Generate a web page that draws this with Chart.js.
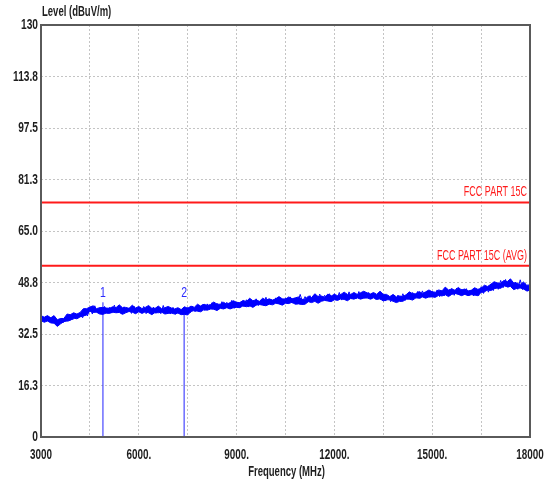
<!DOCTYPE html>
<html><head><meta charset="utf-8">
<script src="https://cdn.jsdelivr.net/npm/chart.js@4/dist/chart.umd.min.js"></script>
<style>html,body{margin:0;padding:0;background:#fff;}#wrap{width:555px;height:488px;position:relative;}</style>
</head><body><div id="wrap"><canvas id="c"></canvas></div>
<script>
// Core band of the level trace: one reading every coreStep MHz from freqStart
const freqStart = 3000;
const coreStep = 100;
const levelCoreUpper = [
 38.3,37.8,38.3,37.6,38.3,37.0,37.4,37.4,38.8,38.6,
 39.2,38.8,39.3,40.5,40.5,41.0,41.4,40.5,40.8,40.9,
 40.7,40.6,41.1,40.8,41.7,40.8,40.9,40.6,41.6,40.7,
 41.2,40.5,40.9,41.5,40.6,40.6,41.3,40.5,40.8,41.2,
 40.7,40.4,40.8,40.2,41.1,40.6,41.3,40.9,41.9,41.3,
 41.9,41.5,41.8,42.6,41.9,41.9,42.5,41.9,42.4,43.0,
 42.5,42.4,43.1,42.7,43.8,43.0,43.3,42.8,43.8,43.2,
 43.6,43.2,43.6,44.3,43.6,43.5,44.2,43.6,43.9,44.2,
 43.4,43.5,44.4,44.0,45.2,44.3,44.5,44.1,45.1,44.5,
 45.0,44.6,45.0,45.7,45.0,45.0,45.6,45.0,45.5,46.0,
 45.5,45.1,45.6,45.0,46.0,45.0,45.0,44.3,45.0,44.2,
 44.5,44.3,44.9,45.8,45.2,45.2,45.9,45.3,45.8,46.4,
 45.8,45.7,46.4,46.1,47.3,46.4,46.7,46.3,47.2,46.4,
 46.7,46.1,46.3,47.1,46.6,46.9,47.9,47.5,48.2,49.0,
 48.6,48.5,49.4,49.0,49.9,48.6,48.6,48.0,48.9,47.9,
 48.0
];
const levelCoreLower = [
 36.7,36.2,36.6,36.0,35.9,34.9,35.7,36.4,36.6,36.8,
 37.5,37.3,37.9,38.2,38.5,39.7,39.3,39.4,38.8,38.7,
 39.1,39.0,39.4,39.2,39.3,38.7,39.2,39.6,39.4,38.9,
 39.5,39.0,39.5,39.2,38.6,39.3,39.2,39.4,38.8,39.0,
 39.1,38.8,39.1,38.6,38.7,38.5,39.6,39.9,39.7,39.5,
 40.2,40.0,40.4,40.3,39.9,40.6,40.4,40.8,40.4,40.8,
 40.9,40.8,41.4,41.1,41.4,40.9,41.6,41.8,41.6,41.4,
 41.9,41.7,42.2,42.0,41.6,42.2,42.1,42.5,41.9,42.0,
 41.8,41.9,42.7,42.4,42.8,42.2,42.8,43.1,42.9,42.7,
 43.3,43.1,43.6,43.4,43.0,43.7,43.5,43.9,43.5,43.8,
 43.9,43.5,43.9,43.4,43.6,42.9,43.3,43.3,42.8,42.4,
 42.8,42.8,43.5,43.5,43.2,43.9,43.8,44.2,43.8,44.2,
 44.2,44.1,44.7,44.5,44.9,44.3,45.0,45.3,45.0,44.6,
 45.0,44.6,44.9,44.8,44.6,45.6,45.8,46.4,46.2,46.8,
 47.0,46.9,47.7,47.4,47.5,46.5,46.9,47.0,46.7,46.1,
 46.3
];
// Noisy sweep readings (spikes), one every traceStep MHz
const traceStep = 75;
const levelTrace = [
 38.0,36.6,38.1,36.4,37.7,36.0,37.4,35.8,37.3,36.0,37.6,36.5,38.6,37.0,39.1,37.4,39.0,37.6,39.6,38.2,
 40.9,38.8,41.4,39.2,40.8,38.7,41.2,39.0,40.9,39.1,41.6,39.2,40.7,38.9,41.1,39.3,40.6,39.0,41.3,39.2,
 40.9,39.1,41.2,38.9,40.7,39.1,41.0,39.0,40.8,38.9,41.5,39.0,40.6,38.8,40.9,38.7,40.4,38.8,40.5,38.6,
 40.9,39.2,41.3,39.5,41.6,39.8,41.8,39.9,42.0,40.2,42.4,40.1,42.2,40.5,42.7,40.4,42.5,40.7,43.1,40.6,
 42.6,40.8,42.9,41.1,43.3,41.0,42.8,41.4,43.6,41.5,43.2,41.6,44.1,41.7,43.5,41.9,43.9,42.0,43.7,42.1,
 43.9,42.0,44.2,42.2,43.8,42.4,45.0,42.5,44.3,42.6,44.6,42.8,44.4,42.9,45.1,43.0,44.7,43.1,45.2,43.2,
 45.2,43.3,45.6,43.2,45.0,43.5,45.8,43.6,45.3,43.7,45.9,43.6,45.4,43.8,45.6,43.5,45.2,43.4,45.5,43.3,
 44.9,42.9,44.6,42.7,44.5,42.6,44.8,42.8,45.2,43.1,45.4,43.4,45.6,43.8,45.9,43.7,46.1,43.9,45.8,44.1,
 46.0,44.1,46.4,44.3,46.2,44.6,46.7,44.5,46.9,44.7,47.0,44.8,46.6,44.9,46.8,44.6,46.4,44.5,46.3,44.6,
 47.4,45.3,47.6,45.7,48.3,46.2,48.6,46.6,49.4,47.1,49.7,47.2,49.1,46.8,48.9,46.6,49.6,46.5,48.4,46.0,
 47.2
];
const yTickLabels = ['0','16.3','32.5','48.8','65.0','81.3','97.5','113.8','130'];
const xTickLabels = ['3000','6000.','9000.','12000.','15000.','18000'];
const limitNames = ['FCC PART 15C','FCC PART 15C (AVG)'];
const limitLevels = [74, 54];
const markerNames = ['1','2'];
const markerFreqs = [4900, 7390];
const markerTops = [42.5, 41.0];
const markerLabelLevels = [45.6, 45.4];

const FONT = "'Liberation Sans','Arial',sans-serif";
const xMin = 3000, xMax = 18000, yMin = 0, yMax = 130;
const yStep = 16.25, xLabelStep = 3000, xGridStep = 1500;

const toXY = (arr, step) => arr.map((v,i)=>({x: freqStart + i*step, y: v}));
const datasets = [];
datasets.push({label:'Level core min', data: toXY(levelCoreLower, coreStep), borderColor:'#0000ff', borderWidth:1, pointRadius:0, tension:0, fill:false, order:2});
datasets.push({label:'Level core max', data: toXY(levelCoreUpper, coreStep), borderColor:'#0000ff', borderWidth:1, pointRadius:0, tension:0, fill:'-1', backgroundColor:'#0000ff', order:2});
datasets.push({label:'Level', data: toXY(levelTrace, traceStep), borderColor:'#0000ff', borderWidth:1, pointRadius:0, tension:0, fill:false, order:2});
limitLevels.forEach((lv,i)=>{
  datasets.push({label: limitNames[i], data:[{x:xMin,y:lv},{x:xMax,y:lv}], borderColor:'#ff1a1a', borderWidth:2, pointRadius:0, order:1});
});
markerFreqs.forEach((f,i)=>{
  datasets.push({label:'Marker '+markerNames[i], data:[{x:f,y:0},{x:f,y:markerTops[i]}], borderColor:'#2222ff', borderWidth:1, pointRadius:0, order:3});
});

function narrowText(ctx, text, x, y, align, sx){
  ctx.save();
  ctx.translate(x, y);
  ctx.scale(sx, 1);
  ctx.textAlign = align;
  ctx.fillText(text, 0, 0);
  ctx.restore();
}

const overlay = {
  id:'overlay',
  afterDatasetsDraw(chart){
    const {ctx, chartArea:a, scales:{x,y}} = chart;
    ctx.save();
    ctx.setLineDash([]);
    ctx.strokeStyle = '#5a5a5a';
    ctx.lineWidth = 2;
    ctx.strokeRect(a.left, a.top, a.right-a.left, a.bottom-a.top);
    ctx.textBaseline = 'middle';
    ctx.fillStyle = '#1e1e1e';
    ctx.font = "bold 15px " + FONT;
    yTickLabels.forEach((t,i)=>{
      narrowText(ctx, t, a.left - 3, y.getPixelForValue(yMin + i*yStep), 'right', 0.68);
    });
    xTickLabels.forEach((t,i)=>{
      narrowText(ctx, t, x.getPixelForValue(xMin + i*xLabelStep), a.bottom + 18, 'center', 0.66);
    });
    ctx.font = "bold 14px " + FONT;
    narrowText(ctx, 'Level (dBuV/m)', a.left + 1, 12, 'left', 0.68);
    narrowText(ctx, 'Frequency (MHz)', (a.left + a.right)/2 + 1, 472, 'center', 0.68);
    ctx.fillStyle = '#ff1a1a';
    ctx.font = "15px " + FONT;
    ctx.textBaseline = 'alphabetic';
    limitLevels.forEach((lv,i)=>{
      narrowText(ctx, limitNames[i], a.right - 3, y.getPixelForValue(lv) - 6, 'right', 0.6);
    });
    ctx.fillStyle = '#2a2aff';
    ctx.font = "15px " + FONT;
    ctx.textBaseline = 'middle';
    markerFreqs.forEach((f,i)=>{
      narrowText(ctx, markerNames[i], x.getPixelForValue(f), y.getPixelForValue(markerLabelLevels[i]), 'center', 0.7);
    });
    ctx.restore();
  }
};

new Chart(document.getElementById('c'), {
  type:'line',
  data:{datasets},
  options:{
    responsive:true, maintainAspectRatio:false, animation:false,
    layout:{padding:{top:25,right:25,left:0,bottom:0}},
    plugins:{legend:{display:false}, tooltip:{enabled:false}, filler:{propagate:false}},
    scales:{
      x:{type:'linear', min:xMin, max:xMax,
        afterFit(s){ s.height = 51; },
        grid:{color:'#c4c4c4', lineWidth:1, drawTicks:false},
        border:{display:false, dash:[2,2]},
        ticks:{display:false, stepSize:xGridStep, autoSkip:false},
        title:{display:false, text:'Frequency (MHz)'}
      },
      y:{type:'linear', min:yMin, max:yMax,
        afterFit(s){ s.width = 41; },
        grid:{color:'#c4c4c4', lineWidth:1, drawTicks:false},
        border:{display:false, dash:[2,2]},
        ticks:{display:false, stepSize:yStep, autoSkip:false},
        title:{display:false, text:'Level (dBuV/m)'}
      }
    }
  },
  plugins:[overlay]
});
</script></body></html>
